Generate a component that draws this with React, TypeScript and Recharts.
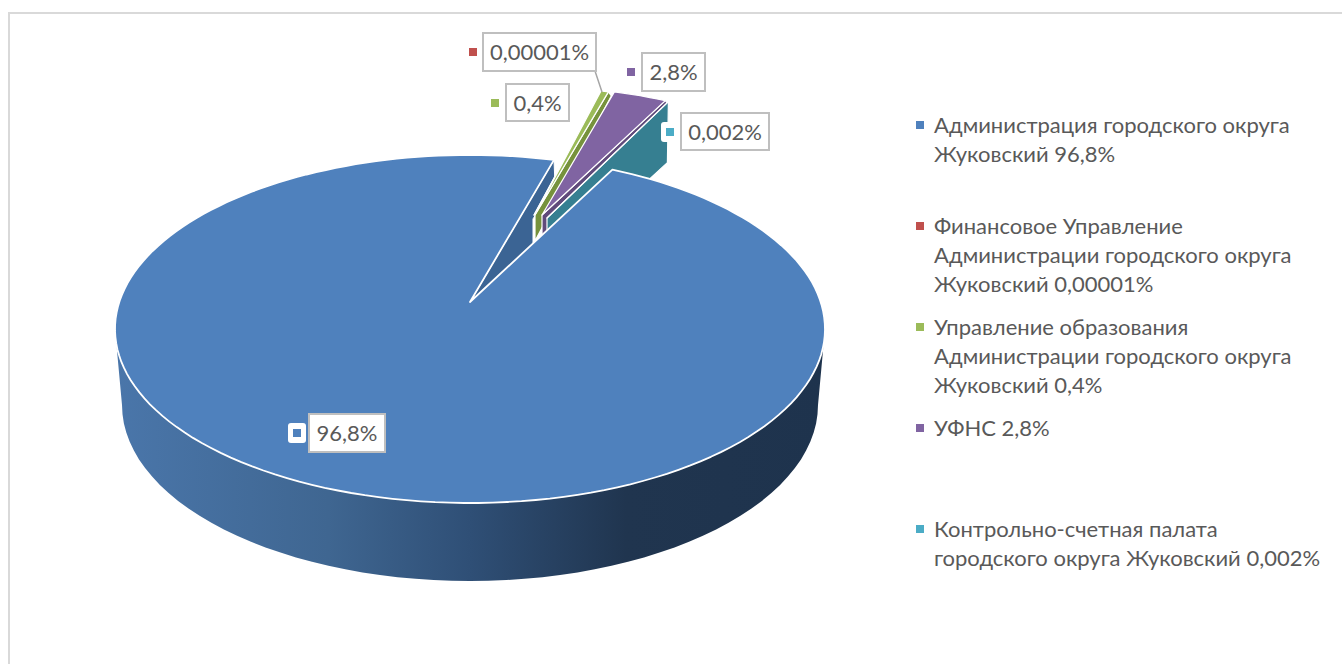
import * as React from "react"
import { Legend, Pie, PieChart } from "recharts"

const categories = [
  "Администрация городского округа Жуковский",
  "Финансовое Управление Администрации городского округа Жуковский",
  "Управление образования Администрации городского округа Жуковский",
  "УФНС",
  "Контрольно-счетная палата городского округа Жуковский",
]
const values = [96.8, 0.00001, 0.4, 2.8, 0.002]
const valueLabels = ["96,8%", "0,00001%", "0,4%", "2,8%", "0,002%"]
const colors = ["#4f81bd", "#c0504d", "#9bbb59", "#8064a2", "#4bacc6"]
const wallColors = ["#3b6494", "#943c39", "#76923c", "#604a7b", "#367f91"]

// legend text broken the way Excel wrapped it
const legendLines = [
  ["Администрация городского округа", "Жуковский 96,8%"],
  ["Финансовое Управление", "Администрации городского округа", "Жуковский 0,00001%"],
  ["Управление образования", "Администрации городского округа", "Жуковский 0,4%"],
  ["УФНС 2,8%"],
  ["Контрольно-счетная палата", "городского округа Жуковский 0,002%"],
]

const data = categories.map((name, i) => ({ name, value: values[i] }))

// 3d look: the disc is tilted, e moves the centre away from the middle of the ellipse
const SQUASH = 174 / 355
const E = 0.155
const DEPTH = 76

// how far each small slice is pulled out of the pie
const rimShift = [[0, 0], [47, -68], [47, -69], [53, -69], [56, -68]]
const tipShift = [[0, 0], [64, -87], [65, -87], [72, -87], [77, -84]]
const rimDrop = [[0, 25], [0, 0], [3, 4], [4, 5], [-1, 61]]
const tipDrop = [[0, 0], [0, 0], [0, 26], [0, 26], [0, 55]]

// box x, y, w, h, then marker centre
const labelBoxes = [
  [309, 414, 76, 38, 297, 433],
  [483, 33, 113, 38, 473, 52],
  [506, 84, 63, 37, 495, 103],
  [642, 53, 63, 38, 631, 72],
  [681, 113, 88, 37, 670, 132],
]

function project(cx: number, cy: number, r: number, deg: number, radial = 1) {
  const a = (deg * Math.PI) / 180
  const u = radial * Math.cos(a)
  const v = radial * Math.sin(a)
  const w = 1 + E * v
  const x = (u * Math.sqrt(1 - E * E)) / w
  const y = (v + E) / w
  return [cx + r * x, cy - r * SQUASH * y]
}

function toPath(points: number[][]) {
  return "M" + points.map((p) => p[0].toFixed(1) + " " + p[1].toFixed(1)).join("L") + "Z"
}

function rimPoints(cx: number, cy: number, r: number, from: number, to: number) {
  const steps = Math.max(2, Math.ceil(Math.abs(to - from) / 2))
  const pts = []
  for (let i = 0; i <= steps; i++) {
    pts.push(project(cx, cy, r, from + ((to - from) * i) / steps))
  }
  return pts
}

function DepthShape(props: any) {
  const { cx, cy, outerRadius: r, endAngle, name } = props
  if (categories.indexOf(name) !== 0) return <g />
  const ry = r * SQUASH
  const front = []
  for (let t = 180; t <= 360; t += 3) {
    const a = (t * Math.PI) / 180
    front.push([cx + r * Math.cos(a), cy - ry * Math.sin(a)])
  }
  const back = []
  for (let t = 360; t >= 180; t -= 3) {
    const a = (t * Math.PI) / 180
    back.push([cx + (r - 7) * Math.cos(a), cy + DEPTH - (ry + 2) * Math.sin(a)])
  }
  // cut face on the open side of the big slice
  const tip = project(cx, cy, r, 0, 0)
  const rim = project(cx, cy, r, endAngle)
  const face = [
    tip,
    rim,
    [rim[0] + 1, rim[1] + 25],
    [rim[0] - 21, rim[1] + 59],
    [rim[0] - 21, rim[1] + 105],
    [tip[0], tip[1] + 40],
  ]
  return (
    <g>
      <defs>
        <linearGradient id="wallFill" x1="0" y1="0" x2="1" y2="0">
          <stop offset="0%" stopColor="#4a76aa" />
          <stop offset="30%" stopColor="#3f6691" />
          <stop offset="50%" stopColor="#2f4f76" />
          <stop offset="72%" stopColor="#20354f" />
          <stop offset="100%" stopColor="#1e334d" />
        </linearGradient>
      </defs>
      <path d={toPath(front.concat(back))} fill="url(#wallFill)" />
      <path d={toPath(face)} fill={wallColors[0]} stroke="#fff" strokeWidth={1} />
    </g>
  )
}

function SmallSliceShape(props: any) {
  const { cx, cy, outerRadius: r, startAngle, endAngle, name } = props
  const i = categories.indexOf(name)
  if (i === 0) return <g />
  const [rx, ry] = rimShift[i]
  const [tx, ty] = tipShift[i]
  const tip0 = project(cx, cy, r, 0, 0)
  const tip = [tip0[0] + tx, tip0[1] + ty]
  const rim = rimPoints(cx, cy, r, startAngle, endAngle).map((p) => [p[0] + rx, p[1] + ry])
  const last = rim[rim.length - 1]
  const wall = [
    tip,
    last,
    [last[0] + rimDrop[i][0], last[1] + rimDrop[i][1]],
    [tip[0] + tipDrop[i][0], tip[1] + tipDrop[i][1]],
  ]
  return (
    <g stroke="#fff" strokeWidth={1.2} strokeLinejoin="round">
      <path d={toPath(wall)} fill={wallColors[i]} />
      <path d={toPath([tip, ...rim])} fill={colors[i]} />
    </g>
  )
}

function TopShape(props: any) {
  const { cx, cy, outerRadius: r, startAngle, endAngle, name } = props
  if (categories.indexOf(name) !== 0) return <g />
  const tip = project(cx, cy, r, 0, 0)
  return (
    <path
      d={toPath([tip, ...rimPoints(cx, cy, r, startAngle, endAngle)])}
      fill={colors[0]}
      stroke="#fff"
      strokeWidth={1.8}
      strokeLinejoin="round"
    />
  )
}

function renderValueLabel(props: any) {
  const i = categories.indexOf(props.name)
  const [x, y, w, h, mx, my] = labelBoxes[i]
  const halo = i === 0 || i === 4
  return (
    <g key={i}>
      {i === 1 && <line x1={x + w - 1} y1={y + h} x2={602} y2={92} stroke="#a6a6a6" strokeWidth={1.5} />}
      {halo && <rect x={mx - 9} y={my - 10} width={18} height={20} rx={3} fill="#fff" />}
      <rect x={mx - 4} y={my - 4} width={8} height={8} fill={colors[i]} />
      <rect x={x} y={y} width={w} height={h} fill="#fff" stroke="#bfbfbf" strokeWidth={2} />
      <text
        x={x + w / 2}
        y={y + h / 2 + 8}
        textAnchor="middle"
        fontFamily="Lato, 'Open Sans', sans-serif"
        fontSize={22}
        fill="#595959"
      >
        {valueLabels[i]}
      </text>
    </g>
  )
}

function LegendBlock() {
  return (
    <div style={{ fontFamily: "Lato, 'Open Sans', sans-serif", fontSize: 22, lineHeight: "29px", color: "#595959" }}>
      {legendLines.map((lines, i) => (
        <div key={i} style={{ position: "relative", height: 101, paddingLeft: 18 }}>
          <span
            style={{
              position: "absolute",
              left: 0,
              top: 11,
              width: 8,
              height: 8,
              background: colors[i],
            }}
          />
          {lines.map((t) => (
            <div key={t} style={{ whiteSpace: "nowrap" }}>
              {t}
            </div>
          ))}
        </div>
      ))}
    </div>
  )
}

export default function App() {
  const pieProps = {
    data,
    dataKey: "value",
    nameKey: "name",
    cx: 470,
    cy: 329,
    outerRadius: 355,
    startAngle: 62.5,
    endAngle: 62.5 - 360,
    stroke: "none",
    isAnimationActive: false,
    labelLine: false,
    legendType: "none" as const,
  }
  return (
    <div style={{ position: "fixed", left: 0, top: 0, width: 1342, height: 664, overflow: "hidden", background: "#fff" }}>
      <div
        style={{
          position: "absolute",
          left: 8,
          top: 12,
          width: 1400,
          height: 700,
          borderLeft: "2px solid #d9d9d9",
          borderTop: "2px solid #d9d9d9",
        }}
      />
      <div style={{ position: "absolute", left: 0, top: 0 }}>
        <PieChart width={1342} height={664} margin={{ top: 0, right: 0, bottom: 0, left: 0 }}>
          <Pie {...pieProps} shape={DepthShape} />
          <Pie {...pieProps} shape={SmallSliceShape} />
          <Pie {...pieProps} shape={TopShape} label={renderValueLabel} />
          <Legend
            content={<LegendBlock />}
            wrapperStyle={{ position: "absolute", left: 916, top: 110, width: 420, bottom: "auto" }}
          />
        </PieChart>
      </div>
    </div>
  )
}
